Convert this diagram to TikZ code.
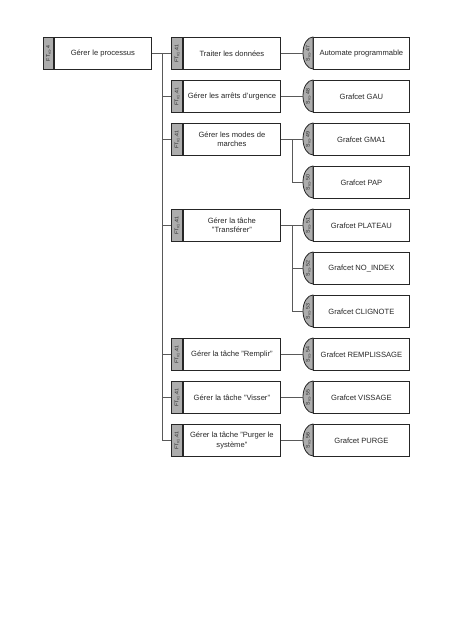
\documentclass[tikz,border=0pt]{standalone}
\usepackage{fontspec}
\setmainfont{Liberation Sans}
\usetikzlibrary{shadows}
\begin{document}
\begin{tikzpicture}[x=1pt,y=-1pt,
 conn/.style={draw=black!65, line width=1pt},
 fbox/.style={draw=black!85, line width=0.8pt, fill=white, minimum height=32pt, inner sep=1pt, align=center, anchor=north west, text=black!85, font=\fontsize{7.6}{9.2}\selectfont, drop shadow={shadow xshift=0.8pt, shadow yshift=-0.8pt, fill=black!45, opacity=1}},
 ftag/.style={draw=black!85, line width=0.8pt, fill=black!32, minimum width=11pt, minimum height=32pt, inner sep=0pt, anchor=north east, text=black!85, font=\fontsize{5.2}{6}\selectfont},
 stag/.style={draw=black!85, line width=0.8pt, fill=black!32},
 stext/.style={font=\fontsize{5.2}{6}\selectfont, text=black!85, inner sep=0pt},
]
\useasboundingbox (0,0) rectangle (452,640);
% column 1
\node[fbox, minimum width=97pt] (a) at (54,37) {Gérer le processus};
\node[ftag, minimum width=10pt] (fa) at (a.north west) {\rotatebox{90}{FT\textsubscript{n1}.4}};
% column 2
\foreach \k/\y/\t in {1/37/{Traiter les données},
                      2/80/{Gérer les arrêts d'urgence},
                      3/123/{Gérer les modes de\\marches},
                      4/209/{Gérer la tâche\\"Transférer"},
                      5/338/{Gérer la tâche "Remplir"},
                      6/381/{Gérer la tâche "Visser"},
                      7/424/{Gérer la tâche "Purger le\\système"}}{
  \node[fbox, minimum width=97pt] (c\k) at (183,\y) {\t};
  \node[ftag] (f\k) at (c\k.north west) {\rotatebox{90}{FT\textsubscript{n1}.41}};
}
% column 3
\foreach \n/\y/\t in {47/37/{Automate programmable},
                      48/80/{Grafcet GAU},
                      49/123/{Grafcet GMA1},
                      50/166/{Grafcet PAP},
                      51/209/{Grafcet PLATEAU},
                      52/252/{Grafcet NO\_INDEX},
                      53/295/{Grafcet CLIGNOTE},
                      54/338/{Grafcet REMPLISSAGE},
                      55/381/{Grafcet VISSAGE},
                      56/424/{Grafcet PURGE}}{
  \node[fbox, minimum width=96pt] (s\n) at (313,\y) {\t};
  \draw[stag] (s\n.north west) arc[start angle=90, end angle=270, x radius=10pt, y radius=16pt] -- cycle;
  \node[stext] (l\n) at ([xshift=-4.6pt]s\n.west) {\rotatebox{90}{S\textsubscript{n1}.\n}};
  \coordinate (t\n) at ([xshift=-10pt]s\n.west);
}
% connectors level 1
\coordinate (j1) at ([xshift=11pt]a.east);
\draw[conn] (a.east) -- (f1.west);
\foreach \k in {2,...,7}{\draw[conn] (j1) |- (f\k.west);}
% connectors level 2
\draw[conn] (c1.east) -- (t47);
\draw[conn] (c2.east) -- (t48);
\draw[conn] (c3.east) -- (t49);
\coordinate (j3) at ([xshift=12pt]c3.east);
\draw[conn] (j3) |- (t50);
\draw[conn] (c4.east) -- (t51);
\coordinate (j4) at ([xshift=12pt]c4.east);
\draw[conn] (j4) |- (t52);
\draw[conn] (j4) |- (t53);
\draw[conn] (c5.east) -- (t54);
\draw[conn] (c6.east) -- (t55);
\draw[conn] (c7.east) -- (t56);
\end{tikzpicture}
\end{document}
